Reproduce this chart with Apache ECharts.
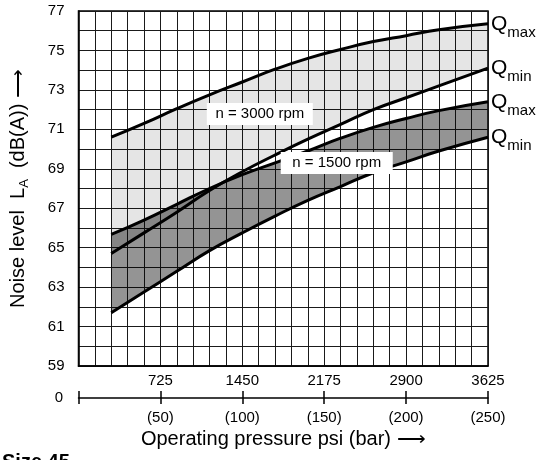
<!DOCTYPE html>
<html>
<head>
<meta charset="utf-8">
<script src="https://cdn.jsdelivr.net/npm/echarts@6/dist/echarts.min.js"></script>
<style>
  html, body { margin: 0; padding: 0; background: #fff; }
  #chart { width: 541px; height: 460px; }
</style>
</head>
<body>
<div id="chart"></div>
<script>
// operating pressure in psi (one cell = 145 psi)
var pressure = [290, 580, 870, 1160, 1450, 1740, 2030, 2320, 2610, 2900, 3190, 3625];
// noise level dB(A)
var qmax3000 = [70.6, 71.3, 72.05, 72.75, 73.4, 74.05, 74.6, 75.05, 75.45, 75.75, 76.05, 76.35];
var qmin3000 = [64.7, 65.75, 66.8, 67.9, 68.85, 69.7, 70.5, 71.25, 72.0, 72.6, 73.2, 74.1];
var qmax1500 = [65.67, 66.4, 67.2, 68.0, 68.7, 69.3, 69.9, 70.55, 71.1, 71.55, 71.95, 72.4];
var qmin1500 = [61.7, 62.75, 63.8, 64.85, 65.75, 66.6, 67.4, 68.1, 68.8, 69.35, 69.9, 70.6];
// bottom scale
var psiTicks = [725, 1450, 2175, 2900, 3625];
var barLabels = ['(50)', '(100)', '(150)', '(200)', '(250)'];

var FONT = '"Liberation Sans", Arial, sans-serif';

// rows are [dB, psi] so that stacking happens on the dB dimension
function rows(ys) {
  return pressure.map(function (x, i) { return [ys[i], x]; });
}
// band height on top of the lower curve (for the stacked area)
function band(top, bottom) {
  return pressure.map(function (x, i) { return [+(top[i] - bottom[i]).toFixed(2), x]; });
}

var qRich = {
  q: { fontSize: 21, lineHeight: 22, color: '#000', fontFamily: FONT },
  s: { fontSize: 15, lineHeight: 15, padding: [18, 0, 0, 0], color: '#000', fontFamily: FONT }
};

function curve(name, data, stack, extra) {
  var s = {
    name: name,
    type: 'line',
    data: data,
    dimensions: ['db', 'psi'],
    encode: { x: 'psi', y: 'db' },
    stack: stack,
    smooth: 0.5,
    symbol: 'none',
    xAxisIndex: 0,
    yAxisIndex: 0,
    lineStyle: { color: '#000', width: 3 },
    endLabel: {
      show: true,
      distance: 3,
      formatter: extra.label,
      rich: qRich
    }
  };
  if (extra.area) s.areaStyle = { color: extra.area, opacity: 1 };
  if (extra.box) {
    s.markPoint = {
      symbol: 'rect',
      symbolSize: extra.box.size,
      itemStyle: { color: '#fff' },
      label: {
        show: true, position: 'inside', color: '#000',
        fontSize: 15, fontFamily: FONT, formatter: extra.box.text
      },
      data: [{ coord: extra.box.at }]
    };
  }
  return s;
}

var chart = echarts.init(document.getElementById('chart'));

var option = {
  backgroundColor: '#fff',
  animation: false,
  grid: {
    left: 73, right: 53, top: 11, bottom: 94,
    show: true, borderColor: '#000', borderWidth: 1.5, backgroundColor: 'transparent'
  },
  xAxis: [
    {
      type: 'value', min: 0, max: 3625, interval: 145,
      axisLine: { show: true, lineStyle: { color: '#000', width: 1.5 } },
      axisTick: { show: false },
      axisLabel: { show: false },
      splitLine: { show: true, lineStyle: { color: '#1a1a1a', width: 1 } }
    },
    {
      type: 'value', position: 'bottom', offset: 32, min: 0, max: 3625, interval: 725,
      axisLine: { show: true, onZero: false, lineStyle: { color: '#000', width: 1.5 } },
      axisTick: { show: true, length: 6, lineStyle: { color: '#000', width: 1.5 } },
      splitLine: { show: false },
      axisLabel: {
        margin: 12, color: '#000', fontSize: 15, fontFamily: FONT, showMaxLabel: true,
        formatter: function (v) { var k = psiTicks.indexOf(v); return k < 0 ? '' : barLabels[k]; }
      },
      name: 'Operating pressure psi (bar) \u27F6',
      nameLocation: 'middle',
      nameGap: 30,
      nameTextStyle: { color: '#000', fontSize: 20, fontFamily: FONT }
    },
    {
      type: 'value', position: 'bottom', offset: 32, min: 0, max: 3625, interval: 725,
      axisLine: { show: false, onZero: false },
      axisTick: { show: true, inside: true, length: 7, lineStyle: { color: '#000', width: 1.5 } },
      splitLine: { show: false },
      axisLabel: {
        inside: true, margin: 10, color: '#000', fontSize: 15, fontFamily: FONT, showMaxLabel: true,
        formatter: function (v) { return psiTicks.indexOf(v) < 0 ? '' : String(v); }
      }
    }
  ],
  yAxis: {
    type: 'value', min: 59, max: 77, interval: 1,
    axisLine: { show: true, lineStyle: { color: '#000', width: 1.5 } },
    axisTick: { show: false },
    axisLabel: {
      margin: 14, color: '#000', fontSize: 15, fontFamily: FONT,
      formatter: function (v) { return v % 2 === 1 ? String(v) : ''; }
    },
    splitLine: { show: true, lineStyle: { color: '#1a1a1a', width: 1 } },
    name: 'Noise level  L{sub|A}  (dB(A)) \u27F6',
    nameLocation: 'middle',
    nameGap: 48,
    nameTextStyle: {
      color: '#000', fontSize: 20, fontFamily: FONT,
      rich: { sub: { fontSize: 13, padding: [12, 0, 0, 0], color: '#000', fontFamily: FONT } }
    }
  },
  graphic: [
    { type: 'text', right: 478, top: 390, style: { text: '0', fontSize: 15, fontFamily: FONT, fill: '#000' } },
    { type: 'text', left: 2, top: 452, style: { text: 'Size 45', fontSize: 20, fontWeight: 'bold', fontFamily: FONT, fill: '#000' } }
  ],
  series: [
    curve('3000 Qmin', rows(qmin3000), 'n3000', {
      label: '{q|Q}{s|min}',
      box: { text: 'n = 3000 rpm', at: [1605, 71.78], size: [106, 22] }
    }),
    curve('3000 Qmax', band(qmax3000, qmin3000), 'n3000', {
      label: '{q|Q}{s|max}', area: 'rgba(0,0,0,0.1)'
    }),
    curve('1500 Qmin', rows(qmin1500), 'n1500', {
      label: '{q|Q}{s|min}',
      box: { text: 'n = 1500 rpm', at: [2286, 69.29], size: [112, 22] }
    }),
    curve('1500 Qmax', band(qmax1500, qmin1500), 'n1500', {
      label: '{q|Q}{s|max}', area: 'rgba(0,0,0,0.42)'
    })
  ]
};

option && chart.setOption(option);
</script>
</body>
</html>
